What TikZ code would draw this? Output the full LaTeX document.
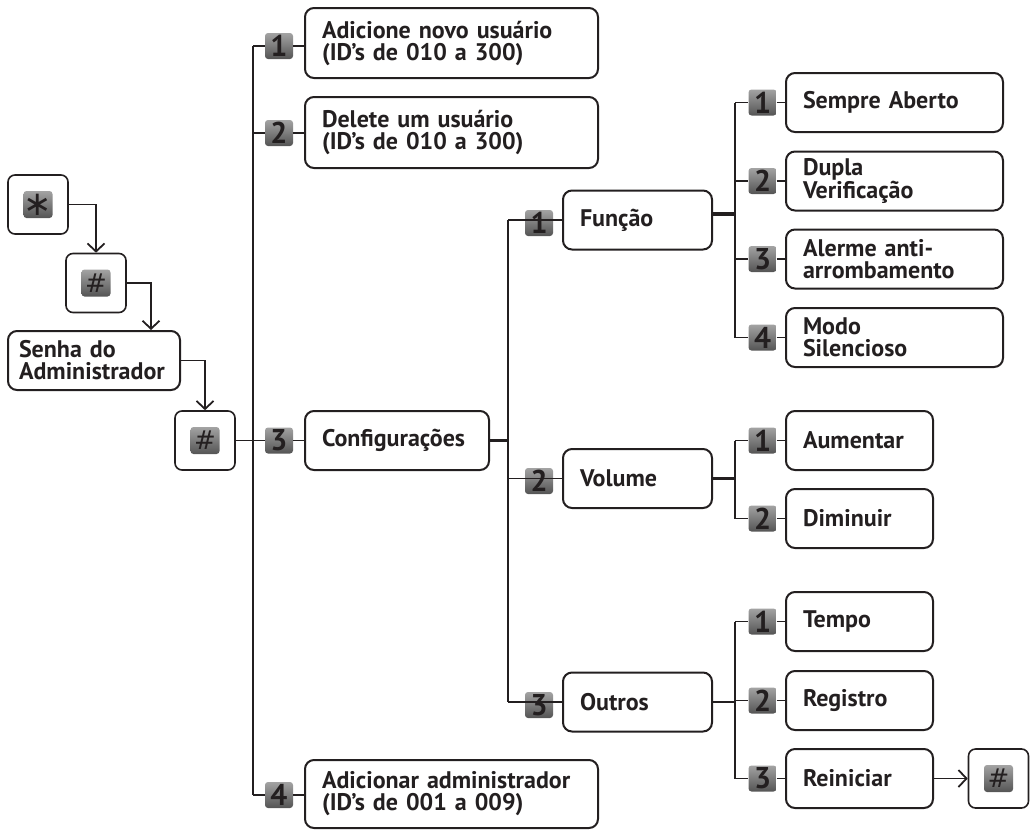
\documentclass[tikz,border=0pt]{standalone}
\usepackage{fontspec}
\setmainfont{PT Sans}
\newfontfamily\keyfont{DejaVu Sans}
\usetikzlibrary{positioning,arrows.meta}

\definecolor{ink}{HTML}{231F20}
\definecolor{capTop}{HTML}{A3A3A3}
\definecolor{capBottom}{HTML}{545454}

\tikzset{
  menu/.style={draw=ink, line width=2pt, rounded corners=9pt, minimum height=59pt,
    text width=#1, inner xsep=17pt, inner ysep=0pt, align=left, text=ink,
    font=\fontsize{24pt}{22pt}\selectfont\bfseries},
  keyframe/.style={draw=ink, line width=1.6pt, rounded corners=7pt,
    minimum width=60pt, minimum height=59pt},
  keycap/.style={rounded corners=3pt, top color=capTop, bottom color=capBottom,
    minimum width=28pt, minimum height=26pt, inner sep=0pt, text=ink,
    font=\fontsize{30pt}{30pt}\selectfont\bfseries},
  symcap/.style={keycap, minimum width=29pt, minimum height=27pt,
    font=\keyfont\fontsize{26pt}{26pt}\selectfont},
  link/.style={draw=ink, line width=1.8pt},
  joint/.style={draw=ink, line width=3.2pt},
  arrowlink/.style={link, -{Straight Barb[length=8pt,width=17pt]}}
}

\begin{document}
\begin{tikzpicture}[x=1pt, y=-1pt]
\useasboundingbox (0,0) rectangle (1035,838);

% key sequence on the left
\node[keyframe] (star) at (38,204.5) {};
\node[symcap] (starkey) at (star) {\fontsize{34pt}{34pt}\selectfont ∗};
\node[keyframe] (hashA) at (96,283) {};
\node[symcap] (hashAkey) at (hashA) {\#};
\node[menu=150pt, inner xsep=11pt] (senha) at (94,360.5) {Senha do\\Administrador};
\node[keyframe] (hashB) at (205,440.5) {};
\node[symcap] (hashBkey) at (hashB) {\#};

\draw[arrowlink] (star.east) -| (hashA.north);
\draw[arrowlink] (hashA.east) -| ([xshift=57pt]senha.north);
\draw[arrowlink] (senha.east) -| (hashB.north);

% first level
\coordinate (trunk) at (253,0);
\node[menu=259pt, minimum height=70pt] (adduser) at (451.5,43) {Adicione novo usuário\\(ID’s de 010 a 300)};
\node[menu=259pt, minimum height=71pt] (deluser) at (451.5,132.5) {Delete um usuário\\(ID’s de 010 a 300)};
\node[menu=150pt] (config) at (397,440.5) {Configurações};
\node[menu=259pt, minimum height=68pt] (addadmin) at (451.5,794) {Adicionar administrador\\(ID’s de 001 a 009)};
\node[keycap] (m1) at (279,46) {1};
\node[keycap] (m2) at (279,133) {2};
\node[keycap] (m3) at (279,440.5) {3};
\node[keycap] (m4) at (279,795) {4};

\draw[link] (trunk |- m1) -- (trunk |- m4);
\foreach \k in {1,2,4}
  \draw[link] (trunk |- m\k) -- (m\k.west);
\draw[link] (hashB) -- (m3);
\draw[link] (m1) -- (m1 -| adduser.west);
\draw[link] (m2) -- (m2 -| deluser.west);
\draw[link] (m3) -- (config);
\draw[link] (m4) -- (m4 -| addadmin.west);

% second level
\coordinate (sub) at (508,0);
\node[menu=115pt] (funcao) at (637.5,220) {Função};
\node[menu=115pt] (volume) at (637.5,478.5) {Volume};
\node[menu=115pt] (outros) at (637.5,702) {Outros};
\node[keycap] (c1) at (539,223) {1};
\node[keycap] (c2) at (539,481) {2};
\node[keycap] (c3) at (539,705) {3};

\draw[joint] (config.east) -- (config.east -| sub);
\draw[link] (sub |- funcao) -- (sub |- outros);
\draw[link] (sub |- funcao) -- (funcao.west);
\draw[link] (sub |- volume) -- (volume.west);
\draw[link] (sub |- outros) -- (outros.west);

% third level
\coordinate (leaf) at (735,0);
\node[menu=183pt] (sempre) at (894.5,102.5) {Sempre Aberto};
\node[menu=183pt] (dupla) at (894.5,181) {Dupla\\Verificação};
\node[menu=183pt] (alerme) at (894.5,259) {Alerme anti-\\arrombamento};
\node[menu=183pt] (modo) at (894.5,337.5) {Modo\\Silencioso};
\node[menu=113pt] (aumentar) at (859.5,440.5) {Aumentar};
\node[menu=113pt] (diminuir) at (859.5,518.5) {Diminuir};
\node[menu=113pt] (tempo) at (859.5,621.5) {Tempo};
\node[menu=113pt] (registro) at (859.5,700.5) {Registro};
\node[menu=113pt] (reiniciar) at (859.5,778.5) {Reiniciar};
\node[keyframe] (hashC) at (998.5,778.5) {};
\node[symcap] (hashCkey) at (hashC) {\#};

\foreach \name/\num in {sempre/1,dupla/2,alerme/3,modo/4,aumentar/1,diminuir/2,tempo/1,registro/2,reiniciar/3} {
  \node[keycap] (\name key) at (762.5,0 |- \name) {\num};
  \draw[link] (\name key) -- (\name);
}

\draw[joint] ([yshift=6pt]funcao.east) -- ([yshift=6pt]funcao.east -| leaf);
\draw[link] (leaf |- sempre) -- (leaf |- modo);
\draw[joint] (volume.east) -- (volume.east -| leaf);
\draw[link] (leaf |- aumentar) -- (leaf |- diminuir);
\draw[link] (outros.east) -- (leaf |- outros);
\draw[link] (leaf |- tempo) -- (leaf |- reiniciar);
\foreach \name in {sempre,dupla,alerme,modo,aumentar,diminuir,tempo,registro,reiniciar}
  \draw[link] (leaf |- \name) -- (\name key.west);

\draw[arrowlink] (reiniciar) -- (hashC);
\end{tikzpicture}
\end{document}
